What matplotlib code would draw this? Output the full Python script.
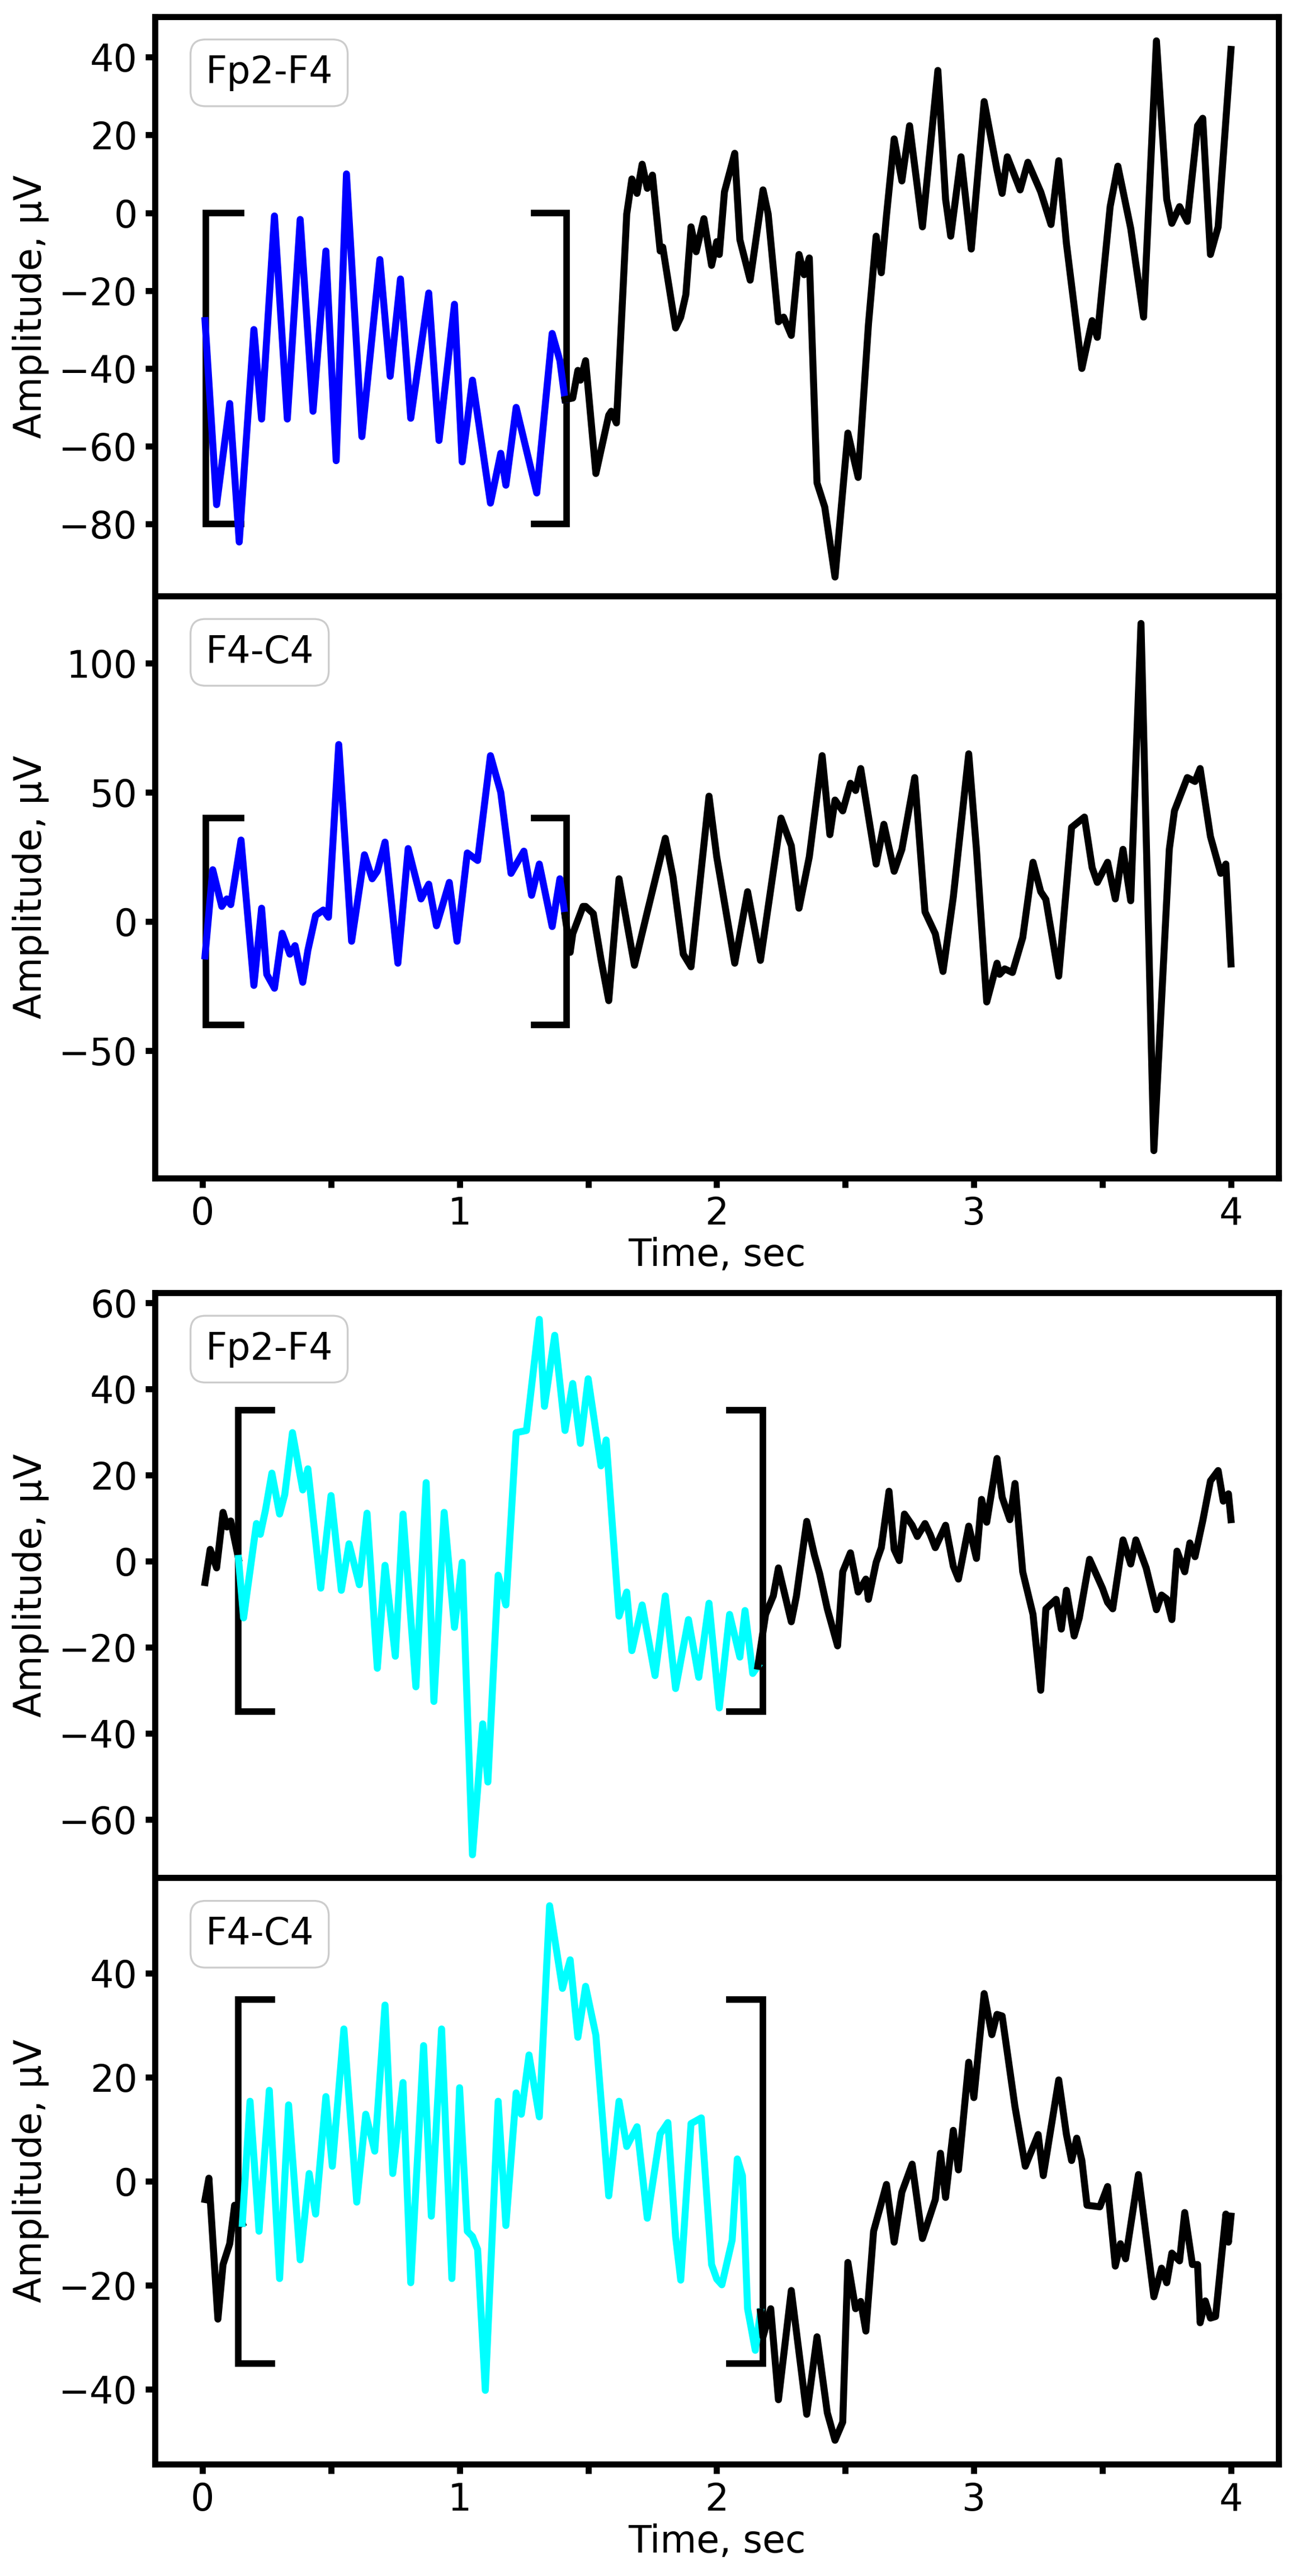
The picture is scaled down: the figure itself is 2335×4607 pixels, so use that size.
import matplotlib
matplotlib.use("Agg")
import matplotlib.pyplot as plt

# ---- Panel 1 (Fp2-F4, top group) ----
p1_t = [0.01,0.055,0.106,0.143,0.20,0.23,0.28,0.33,0.38,0.43,0.48,0.52,0.56,0.62,0.69,0.73,0.77,0.81,0.88,0.92,0.98,1.01,1.05,1.12,1.16,1.18,1.22,1.26,1.30,1.36,1.39,1.41,
        1.44,1.46,1.47,1.49,1.53,1.58,1.59,1.61,1.65,1.67,1.69,1.71,1.73,1.75,1.78,1.79,1.84,1.86,1.88,1.90,1.92,1.95,1.98,2.00,2.01,2.03,2.07,2.09,2.13,2.18,2.20,2.24,2.26,2.29,2.32,2.34,2.36,2.39,2.42,2.46,2.51,2.55,2.59,2.62,2.64,2.66,2.69,2.72,2.75,2.80,2.86,2.89,2.91,2.95,2.99,3.04,3.09,3.11,3.13,3.18,3.21,3.26,3.30,3.33,3.36,3.42,3.46,3.48,3.53,3.56,3.61,3.66,3.71,3.75,3.77,3.80,3.83,3.87,3.89,3.92,3.95,4.00]
p1_v = [-27.7,-75,-49,-84.6,-30,-53,-0.8,-53,-1.7,-51,-9.8,-63.7,10,-57.5,-12,-42,-17,-52.8,-20.6,-58.5,-23.5,-64,-43,-74.6,-61.8,-70,-50,-61,-72,-31,-38,-48,
        -47.6,-40.5,-43,-38,-67,-52,-51,-54,-0.3,8.7,5,12.5,6.3,9.7,-9.8,-8.8,-29.6,-26.8,-21,-3.6,-10,-1.5,-13.5,-7.4,-10.7,5.4,15.3,-6.9,-17.3,5.9,-0.3,-28,-26.8,-31.5,-10.7,-15.9,-11.6,-69.4,-75.6,-93.6,-56.6,-68,-28.7,-6,-15.4,-0.8,19,8.2,22.4,-3.6,36.6,3.5,-6,14.4,-9.3,28.6,11,5,14.4,5.9,13,5.4,-3,13.4,-7.9,-40,-27.7,-32,1.6,12,-4,-26.8,44.2,3.5,-2.7,1.6,-2.2,22.4,24.3,-10.7,-3.6,42]
p1_split = 1.41

# ---- Panel 2 (F4-C4, top group) ----
p2_t = [0.01,0.04,0.075,0.095,0.11,0.15,0.20,0.23,0.25,0.28,0.31,0.34,0.36,0.39,0.41,0.44,0.47,0.49,0.53,0.58,0.63,0.66,0.68,0.71,0.76,0.80,0.85,0.88,0.91,0.96,0.99,1.03,1.07,1.12,1.16,1.20,1.25,1.28,1.31,1.36,1.39,1.41,
        1.43,1.44,1.48,1.49,1.52,1.55,1.58,1.62,1.68,1.73,1.80,1.83,1.87,1.90,1.97,2.00,2.07,2.12,2.17,2.25,2.29,2.32,2.36,2.41,2.44,2.46,2.49,2.52,2.54,2.56,2.62,2.65,2.69,2.72,2.77,2.81,2.85,2.88,2.92,2.98,3.01,3.05,3.09,3.10,3.12,3.15,3.19,3.23,3.26,3.28,3.33,3.38,3.43,3.46,3.48,3.52,3.55,3.58,3.61,3.65,3.70,3.76,3.78,3.83,3.86,3.88,3.92,3.96,3.98,4.00]
p2_v = [-13.4,20,5.8,8.7,6.5,31.5,-24.8,5.1,-20.5,-25.9,-4.6,-12.7,-9.4,-23.6,-11.2,2.3,4.4,1.6,68.5,-7.7,25.8,16.5,19.4,30.7,-16.2,28.2,8.7,14.4,-1.7,15.1,-7.7,26.5,23.6,64.2,50,18.6,27.2,10.1,22.2,-2,16.5,2.3,
        -12,-4.8,5.8,5.8,3,-14.8,-30.7,16.5,-17,3.7,32.2,17.2,-12.7,-17.6,48.5,25,-16.2,11.5,-15.1,40,29.3,5.1,25,64.2,33.6,47,42.8,53.5,50.7,59.2,22.2,37.6,19.4,27.9,55.7,3.7,-4.8,-19.4,9.4,64.9,27.9,-31.2,-16.2,-20.5,-18.4,-19.8,-6.3,22.9,11.5,8.5,-21.2,36.4,40.4,20.8,15.1,22.9,8.7,27.9,8,115.4,-88.8,27.9,42.8,55.7,54.2,59.2,32.9,18.6,22.2,-16.5]
p2_split = 1.41

# ---- Panel 3 (Fp2-F4, bottom group) ----
p3_t = [0.01,0.03,0.055,0.08,0.095,0.11,0.14,
        0.16,0.21,0.225,0.245,0.27,0.30,0.32,0.35,0.39,0.41,0.46,0.50,0.54,0.57,0.61,0.64,0.68,0.71,0.75,0.78,0.83,0.87,0.90,0.94,0.98,1.01,1.05,1.09,1.11,1.15,1.18,1.22,1.26,1.31,1.33,1.37,1.41,1.44,1.47,1.50,1.55,1.57,1.62,1.65,1.67,1.71,1.76,1.80,1.84,1.89,1.93,1.97,2.01,2.05,2.09,2.11,2.14,2.16,
        2.19,2.22,2.24,2.29,2.31,2.35,2.38,2.40,2.43,2.47,2.49,2.52,2.55,2.58,2.59,2.62,2.64,2.67,2.69,2.71,2.73,2.76,2.78,2.81,2.83,2.85,2.89,2.92,2.94,2.98,3.01,3.03,3.05,3.09,3.11,3.14,3.16,3.19,3.23,3.26,3.28,3.32,3.34,3.36,3.39,3.41,3.45,3.50,3.52,3.54,3.58,3.61,3.63,3.67,3.71,3.73,3.75,3.77,3.79,3.82,3.84,3.86,3.89,3.92,3.95,3.97,3.99,4.00]
p3_v = [-5,2.7,-1.6,11.3,7.9,9.3,0.6,
        -13.2,8.7,6.2,11.8,20.4,10.9,15.4,29.8,16.5,21.4,-6.3,15.2,-6.8,4,-5.5,11.1,-24.9,-1,-22.1,10.9,-29.2,18.2,-32.6,11.3,-15.4,-0.3,-68.2,-37.8,-51.3,-3.3,-10.2,29.8,30.3,56.1,35.9,52.4,30.3,41.2,27.3,42.3,22.1,28.1,-12.8,-7.2,-20.8,-10.2,-26.6,-8.1,-29.6,-13.6,-27,-9.8,-34.1,-12.4,-22.3,-11.5,-26.1,-24.4,
        -12.4,-8.1,-1.6,-14.1,-8.1,9.2,1.4,-2.9,-11.1,-19.7,-2.5,1.9,-7.2,-4.2,-8.9,-0.3,3.1,16.2,2.7,0.1,10.9,8.3,5.7,8.7,6.2,3.1,8.3,-1.2,-4.2,8.1,0.6,14.3,9,23.8,14.8,9.6,18,-2.5,-12.4,-30,-11.1,-8.9,-15.8,-6.8,-17.4,-13.2,0.4,-6.3,-9.6,-11.1,4.9,-0.7,4.9,-1.6,-11.3,-7.9,-8.8,-13.6,2.3,-2.5,4.2,1,9.3,18.6,21,13.9,15.6,9.6]
p3_range = (0.14, 2.17)

# ---- Panel 4 (F4-C4, bottom group) ----
p4_t = [0.01,0.025,0.06,0.08,0.106,0.125,
        0.155,0.185,0.22,0.26,0.30,0.335,0.38,0.415,0.44,0.48,0.505,0.55,0.60,0.635,0.67,0.71,0.74,0.78,0.81,0.86,0.89,0.93,0.97,1.00,1.03,1.05,1.07,1.10,1.15,1.18,1.22,1.24,1.27,1.31,1.35,1.40,1.43,1.46,1.49,1.53,1.58,1.62,1.65,1.69,1.73,1.78,1.81,1.84,1.86,1.90,1.94,1.98,2.00,2.02,2.06,2.08,2.10,2.12,2.15,2.17,
        2.18,2.21,2.24,2.29,2.35,2.39,2.43,2.46,2.49,2.51,2.54,2.56,2.58,2.61,2.66,2.69,2.72,2.76,2.80,2.85,2.87,2.89,2.92,2.94,2.98,3.00,3.04,3.07,3.09,3.11,3.16,3.20,3.25,3.27,3.33,3.36,3.38,3.40,3.42,3.44,3.49,3.52,3.55,3.57,3.59,3.64,3.70,3.73,3.75,3.77,3.80,3.82,3.85,3.87,3.88,3.90,3.92,3.94,3.98,3.99,4.00]
p4_v = [-3.5,0.6,-26.5,-16,-12,-4.6,
        -8.1,15.4,-9.6,17.5,-18.7,14.7,-15.1,1.5,-6.3,16.3,2.9,29.3,-4,12.9,5.8,33.9,1.5,19,-19.5,26.1,-6.7,29.3,-18.7,18,-9.6,-10.6,-13.1,-40.2,15.4,-8.5,17,12.9,24.3,12.4,53,37.1,42.6,27.7,37.5,28.1,-2.8,15.4,6.7,10.5,-7.1,9.1,11.3,-10.6,-19,11.1,12.2,-16,-18.8,-19.9,-11.3,4.3,1.1,-24.5,-32.5,-25.1,
        -29.9,-24.5,-42,-21,-44.8,-29.9,-44.5,-49.8,-46.3,-15.6,-24.5,-23.1,-28.8,-9.6,-0.6,-11.7,-2.1,3.3,-11,-3.5,5.4,-3.1,9.8,2.2,22.9,16.1,36.1,28.2,32.1,31.8,14.3,2.9,9,1.1,19.5,9,4,8.3,4,-4.6,-4.9,-1,-16.3,-12,-14.9,1.3,-22.2,-16.7,-19.5,-13.8,-15.3,-6,-16,-16,-27.2,-23,-26.3,-26,-6.3,-11.7,-6.7]
p4_range = (0.14, 2.17)

labels = ["Fp2-F4", "F4-C4", "Fp2-F4", "F4-C4"]
ylims = [(-98.5, 50.4), (-99.4, 126), (-73.5, 62.3), (-54.4, 58.4)]
yticks = [[-80,-60,-40,-20,0,20,40], [-50,0,50,100], [-60,-40,-20,0,20,40,60], [-40,-20,0,20,40]]
brackets = [((0.013, 0.15, 1.29, 1.415), (-80, 0)),
            ((0.013, 0.15, 1.29, 1.415), (-40, 40)),
            ((0.14, 0.27, 2.05, 2.18), (-35, 35)),
            ((0.14, 0.27, 2.05, 2.18), (-35, 35))]

fig = plt.figure(figsize=(2335/300, 4607/300), dpi=300)
L, W = 0.1186, 0.979 - 0.1186
boxes = [(0.7686, 0.9935), (0.5427, 0.7686), (0.2711, 0.4982), (0.0434, 0.2711)]
axes = [fig.add_axes([L, b, W, t - b]) for b, t in boxes]

data = [(p1_t, p1_v, (0.0, p1_split), 'blue'),
        (p2_t, p2_v, (0.0, p2_split), 'blue'),
        (p3_t, p3_v, p3_range, 'cyan'),
        (p4_t, p4_v, p4_range, 'cyan')]

LW = 3.0
for i, ax in enumerate(axes):
    t, v, (lo, hi), col = data[i]
    idx_in = [k for k, x in enumerate(t) if lo <= x <= hi]
    k0, k1 = idx_in[0], idx_in[-1]
    if k0 > 0:
        ax.plot(t[:k0 + 1], v[:k0 + 1], color='black', lw=LW, zorder=3)
    ax.plot(t[k0:k1 + 1], v[k0:k1 + 1], color=col, lw=LW, zorder=3)
    ax.plot(t[k1:], v[k1:], color='black', lw=LW, zorder=3)
    (x0, x1, x2, x3), (yb, yt) = brackets[i]
    ax.plot([x1, x0, x0, x1], [yt, yt, yb, yb], color='black', lw=2.8, solid_joinstyle='miter', zorder=2)
    ax.plot([x2, x3, x3, x2], [yt, yt, yb, yb], color='black', lw=2.8, solid_joinstyle='miter', zorder=2)
    ax.set_xlim(-0.185, 4.185)
    ax.set_ylim(*ylims[i])
    ax.set_yticks(yticks[i])
    ax.set_xticks([0, 1, 2, 3, 4])
    ax.set_xticks([0.5, 1.5, 2.5, 3.5], minor=True)
    ax.tick_params(which='both', length=4, width=2.6, labelsize=16, direction='out')
    for s in ax.spines.values():
        s.set_linewidth(2.6)
    ax.set_ylabel("Amplitude, µV", fontsize=16)
    if i in (0, 2):
        ax.tick_params(axis='x', which='both', labelbottom=False)
    else:
        ax.set_xlabel("Time, sec", fontsize=16, labelpad=2)
    ax.text(0.045, 0.935, labels[i], transform=ax.transAxes, fontsize=16, va='top', ha='left',
            bbox=dict(boxstyle='round,pad=0.4', facecolor='white', edgecolor='#cccccc', lw=0.8), zorder=5)

fig.savefig("out.png", dpi=300)
